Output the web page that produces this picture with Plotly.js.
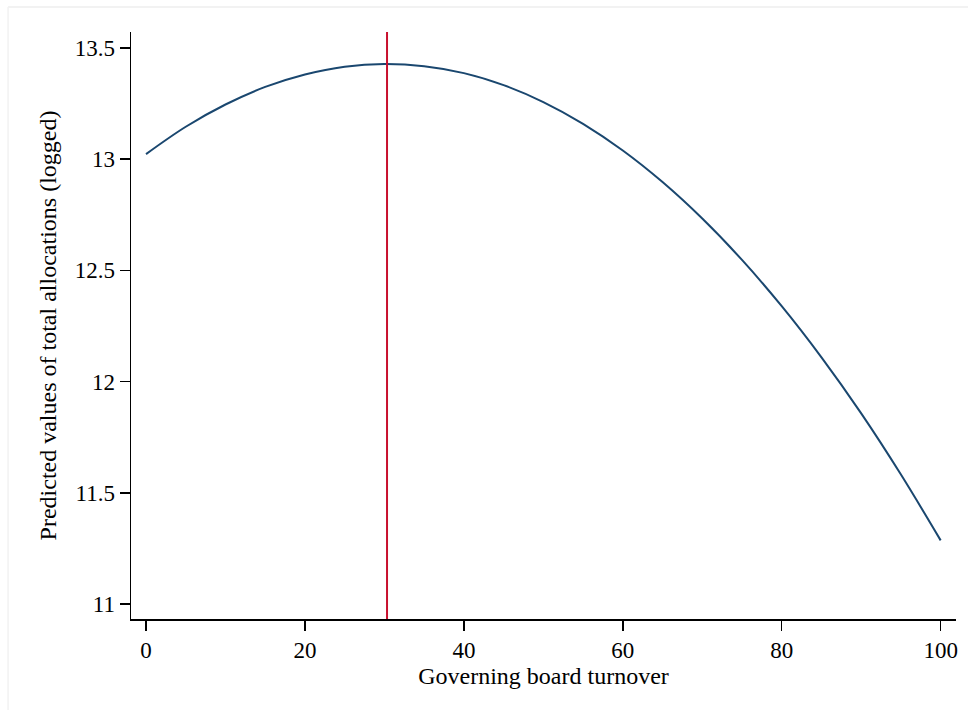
<!DOCTYPE html>
<html>
<head>
<meta charset="utf-8">
<script src="https://cdn.plot.ly/plotly-3.0.1.min.js"></script>
<style>html,body{margin:0;padding:0;background:#fff;}#chart{width:969px;height:710px;}</style>
</head>
<body>
<div id="chart"></div>
<script>
// Governing board turnover (x) and predicted log total allocations (y)
const turnover = [0, 5, 10, 15, 20, 25, 30, 35, 40, 45, 50, 55, 60, 65, 70, 75, 80, 85, 90, 95, 100];
const predicted = [13.023, 13.146, 13.246, 13.325, 13.381, 13.416, 13.428, 13.418, 13.387, 13.333, 13.257, 13.159, 13.039, 12.897, 12.733, 12.547, 12.339, 12.109, 11.857, 11.582, 11.286];
const peakTurnover = 30.33;
const xTicks = [0, 20, 40, 60, 80, 100];
const yTicks = [11, 11.5, 12, 12.5, 13, 13.5];
const yTickLabels = ['11', '11.5', '12', '12.5', '13', '13.5'];

const font = {family: 'Liberation Serif, Times New Roman, serif', color: '#000'};

const traces = [
  {
    x: turnover, y: predicted, type: 'scatter', mode: 'lines',
    line: {color: '#1a476f', width: 2, shape: 'spline'},
    hoverinfo: 'x+y', showlegend: false
  },
  {
    x: [peakTurnover, peakTurnover], y: [10.9325, 13.572], type: 'scatter', mode: 'lines',
    line: {color: '#c8102e', width: 2},
    hoverinfo: 'x', showlegend: false
  }
];

const layout = {
  width: 969, height: 710,
  margin: {l: 131, r: 13, t: 32, b: 91},
  paper_bgcolor: '#fff', plot_bgcolor: '#fff',
  font: Object.assign({size: 23}, font),
  showlegend: false,
  xaxis: {
    range: [-1.89, 101.93],
    tickmode: 'array', tickvals: xTicks,
    ticks: 'outside', ticklen: 10, tickwidth: 1.5, tickcolor: '#000',
    showline: true, linecolor: '#000', linewidth: 1.5,
    showgrid: false, zeroline: false,
    tickfont: Object.assign({size: 23}, font),
    title: {text: 'Governing board turnover', font: Object.assign({size: 24}, font), standoff: 2}
  },
  yaxis: {
    range: [10.9325, 13.572],
    tickmode: 'array', tickvals: yTicks, ticktext: yTickLabels,
    ticks: 'outside', ticklen: 10, tickwidth: 1.5, tickcolor: '#000',
    showline: true, linecolor: '#000', linewidth: 1.5,
    showgrid: false, zeroline: false,
    tickfont: Object.assign({size: 23}, font),
    title: {text: 'Predicted values of total allocations (logged)', font: Object.assign({size: 24}, font), standoff: 11}
  },
  shapes: [
    {type: 'line', xref: 'paper', yref: 'paper', x0: -0.149, x1: 1.0145, y0: 1.0425, y1: 1.0425,
     line: {color: '#eeeeee', width: 1.5}},
    {type: 'line', xref: 'paper', yref: 'paper', x0: -0.149, x1: -0.149, y0: 1.0425, y1: -0.2,
     line: {color: '#f2f2f2', width: 1.5}}
  ]
};

Plotly.newPlot('chart', traces, layout, {displayModeBar: false, staticPlot: true});
</script>
</body>
</html>
